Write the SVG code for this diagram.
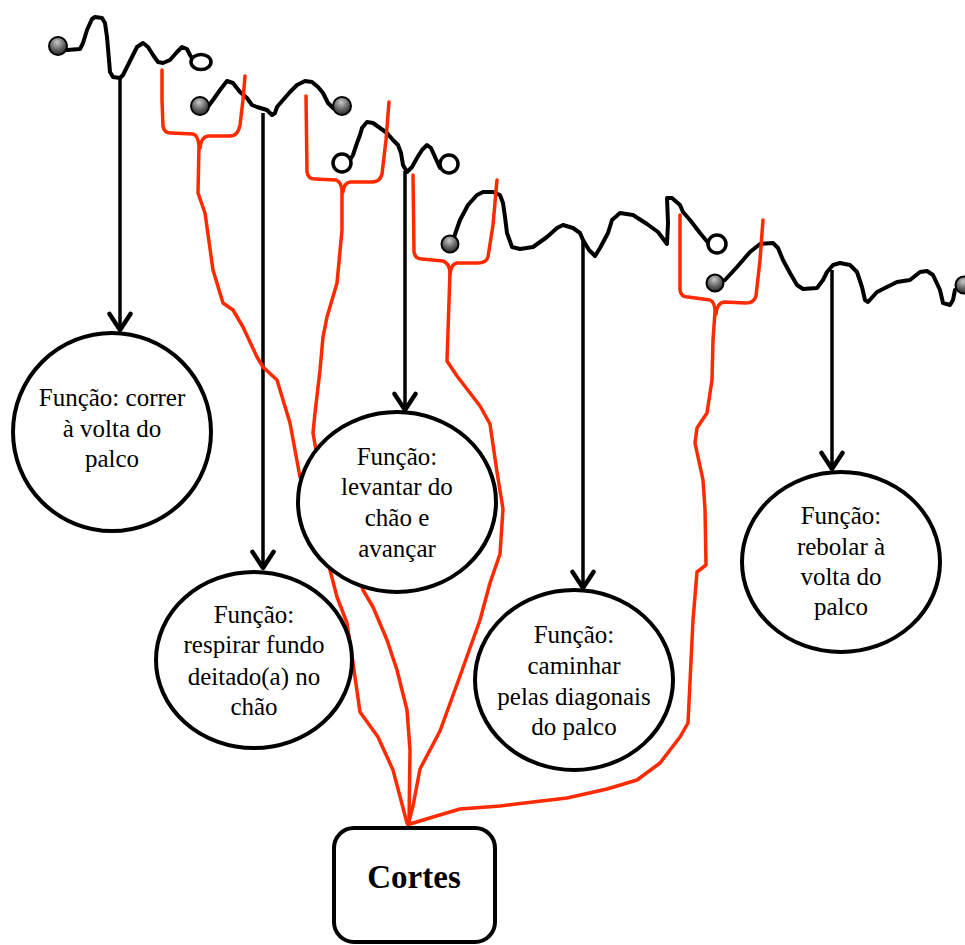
<svg xmlns="http://www.w3.org/2000/svg" width="965" height="945" viewBox="0 0 965 945">
  <style>
    .wave { fill: none; stroke: #000; stroke-width: 4; stroke-linecap: round; stroke-linejoin: round; }
    .cut { fill: none; stroke: #ff2a00; stroke-width: 3.5; stroke-linecap: round; stroke-linejoin: round; }
    .drop { fill: none; stroke: #000; stroke-width: 3.5; }
    .node { fill: #fff; stroke: #000; stroke-width: 4; }
    .hollow { fill: #fff; stroke: #000; stroke-width: 3.5; }
    .bead { fill: url(#beadFill); stroke: #000; stroke-width: 2; }
    .label { font-family: "Liberation Serif", "Times New Roman", serif; font-size: 25px; fill: #000; text-anchor: middle; }
    .title { font-family: "Liberation Serif", "Times New Roman", serif; font-size: 33px; font-weight: bold; fill: #000; text-anchor: middle; }
  </style>
  <defs>
    <radialGradient id="beadFill" cx="0.45" cy="0.3" r="0.75">
      <stop offset="0" stop-color="#c8c8c8"/>
      <stop offset="0.6" stop-color="#5a5a5a"/>
      <stop offset="1" stop-color="#222"/>
    </radialGradient>
    <marker id="chevron" markerUnits="userSpaceOnUse" markerWidth="30" markerHeight="30" refX="0" refY="0" viewBox="-16 -12 20 24" orient="auto" overflow="visible">
      <path d="M-13,-8.5 L0,0 L-13,8.5" fill="none" stroke="#000" stroke-width="3.5" stroke-linejoin="round" stroke-linecap="round"/>
    </marker>
  </defs>

  <rect width="965" height="945" fill="#fff"/>

  <!-- timeline: wavy movement strand with start/end beads -->
  <g id="timeline">
    <path class="wave" d="M58,46 L67,50 L80,49 L83,43 L87,30 L92,19 L95,17 L102,18 L105,23 L107,37 L109,60 L110,72 L113,77 L120,78 L123,75 L128,65 L132,57 L137,47 L143,43 L148,47 L153,55 L158,62 L163,63 L170,60 L177,52 L182,47 L187,49 L190,55 L193,60"/>
    <path class="wave" d="M200,106 L207,108 L213,100 L220,90 L227,81 L233,83 L240,92 L247,98 L252,105 L257,107 L267,110 L272,115 L275,113 L277,107 L283,100 L290,92 L297,85 L305,81 L312,82 L318,87 L323,93 L328,103 L333,108 L342,106"/>
    <path class="wave" d="M342,163 L348,163 L353,155 L357,143 L360,135 L362,128 L367,122 L373,123 L380,128 L387,133 L393,140 L398,145 L401,153 L403,165 L407,172 L412,167 L417,158 L422,150 L427,145 L431,148 L435,157 L440,168 L449,164"/>
    <path class="wave" d="M450,244 L453,240 L460,220 L468,205 L477,195 L483,192 L493,192 L500,195 L503,203 L505,217 L507,233 L512,247 L520,249 L533,247 L547,237 L557,228 L563,225 L573,228 L580,233 L583,240 L589,250 L595,256 L600,248 L608,233 L612,220 L620,213 L633,215 L647,224 L658,232 L667,244 L668,223 L667,198 L672,198 L680,205 L683,212 L690,220 L700,233 L710,245 L717,244"/>
    <path class="wave" d="M715,283 L725,280 L737,267 L750,252 L760,244 L773,243 L778,248 L783,260 L790,273 L797,285 L803,289 L817,288 L823,280 L827,272 L833,265 L840,263 L850,265 L857,272 L862,287 L865,300 L868,302 L877,292 L887,287 L897,282 L910,280 L920,272 L927,271 L933,275 L940,290 L943,303 L950,305 L953,300 L955,290 L963,285"/>
    <circle class="bead" cx="58" cy="46" r="9"/>
    <ellipse class="hollow" cx="201" cy="62" rx="10" ry="7.5"/>
    <circle class="bead" cx="200" cy="106" r="9"/>
    <circle class="bead" cx="342" cy="106" r="9"/>
    <circle class="hollow" cx="342" cy="163" r="9"/>
    <circle class="hollow" cx="449" cy="164" r="9"/>
    <circle class="bead" cx="450" cy="244" r="8.5"/>
    <circle class="hollow" cx="717" cy="244" r="9"/>
    <circle class="bead" cx="715" cy="283" r="8.5"/>
    <circle class="bead" cx="964" cy="285" r="8.5"/>
  </g>

  <!-- connectors: function arrows (black) and cut lines (red) -->
  <g id="connectors">
    <line class="drop" x1="120" y1="78" x2="120" y2="330" marker-end="url(#chevron)"/>
    <line class="drop" x1="263" y1="113" x2="263" y2="568" marker-end="url(#chevron)"/>
    <line class="drop" x1="405" y1="171" x2="405" y2="410" marker-end="url(#chevron)"/>
    <line class="drop" x1="583" y1="239" x2="583" y2="588" marker-end="url(#chevron)"/>
    <line class="drop" x1="832" y1="270" x2="832" y2="469" marker-end="url(#chevron)"/>

    <path class="cut" d="M162,70 L162,100 L163,126 Q164,133 171,133 L193,134 Q198,135 199,146 L198,193 L205,213 L213,270 L223,303 L233,310 L243,327 L257,357 L263,367 L277,380 L290,423 L300,477 L313,503 L323,543 L337,597 L347,623 L353,663 L360,712 L378,737 L393,770 L407,823"/>
    <path class="cut" d="M245,76 L243,100 L240,125 Q238,136 230,136 L208,136 Q201,137 200,148"/>

    <path class="cut" d="M306,96 L307,172 Q308,179 315,179 L336,180 Q341,182 342,190 L342,230 L337,283 L327,317 L323,337 L320,370 L315,413 L313,433 L320,473 L333,503 L343,537 L353,560 L363,590 L373,607 L387,640 L397,670 L407,710 L410,750 L409,823"/>
    <path class="cut" d="M389,102 L386,140 L382,174 Q380,182 372,182 L350,182 Q344,183 343,192"/>

    <path class="cut" d="M413,175 L414,252 Q415,259 422,259 L443,261 Q449,263 450,272 L447,361 L457,376 L480,406 L490,424 L497,472 L503,509 L500,554 L490,583 L480,620 L460,676 L440,731 L420,769 L413,806 L408,825"/>
    <path class="cut" d="M497,180 L493,225 L488,257 Q486,263 478,263 L457,263 Q451,264 450,274"/>

    <path class="cut" d="M680,215 L680,290 Q681,297 688,297 L710,300 Q715,302 715,312 L713,340 L712,380 L707,413 L697,428 L695,443 L703,480 L705,509 L706,565 L697,572 L693,620 L688,723 L680,737 L660,763 L637,780 L607,789 L567,798 L533,802 L500,806 L460,809 L433,817 L410,824"/>
    <path class="cut" d="M763,220 L760,260 L756,296 Q754,303 746,303 L724,302 Q717,303 716,314"/>
  </g>

  <g id="f-correr">
    <circle class="node" cx="112" cy="432" r="99"/>
    <text class="label" x="112" y="406">Função: correr</text>
    <text class="label" x="112" y="437">à volta do</text>
    <text class="label" x="112" y="467">palco</text>
  </g>

  <g id="f-respirar">
    <ellipse class="node" cx="254" cy="660" rx="98" ry="88"/>
    <text class="label" x="254" y="623">Função:</text>
    <text class="label" x="254" y="653">respirar fundo</text>
    <text class="label" x="254" y="685">deitado(a) no</text>
    <text class="label" x="254" y="715">chão</text>
  </g>

  <g id="f-levantar">
    <ellipse class="node" cx="397" cy="502" rx="99" ry="90"/>
    <text class="label" x="397" y="465">Função:</text>
    <text class="label" x="397" y="495">levantar do</text>
    <text class="label" x="397" y="526">chão e</text>
    <text class="label" x="397" y="557">avançar</text>
  </g>

  <g id="f-caminhar">
    <ellipse class="node" cx="574" cy="680" rx="99" ry="90"/>
    <text class="label" x="574" y="643">Função:</text>
    <text class="label" x="574" y="674">caminhar</text>
    <text class="label" x="574" y="705">pelas diagonais</text>
    <text class="label" x="574" y="735">do palco</text>
  </g>

  <g id="f-rebolar">
    <ellipse class="node" cx="841" cy="562" rx="99" ry="90"/>
    <text class="label" x="841" y="524">Função:</text>
    <text class="label" x="841" y="555">rebolar à</text>
    <text class="label" x="841" y="585">volta do</text>
    <text class="label" x="841" y="615">palco</text>
  </g>

  <g id="cortes">
    <rect class="node" x="334" y="828" width="161" height="114" rx="20" ry="20"/>
    <text class="title" x="414" y="888">Cortes</text>
  </g>
</svg>
